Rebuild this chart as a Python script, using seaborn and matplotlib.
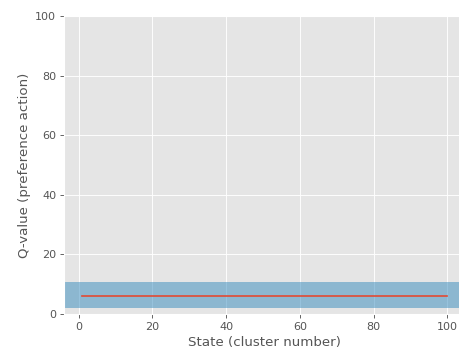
import matplotlib
matplotlib.use("Agg")
import matplotlib.pyplot as plt
import seaborn as sns
import numpy as np
import pandas as pd

states = list(range(1, 101))
q_values = [6.0] * 100
band_low = 2.0
band_high = 10.7

plt.style.use("ggplot")
DPI = 80
fig = plt.figure(figsize=(459 / DPI, 352 / DPI), dpi=DPI)
ax = fig.add_axes([0.1395, 0.108, 0.875, 0.8465])

ax.axhspan(band_low, band_high, color="#348ABD", alpha=0.5, lw=0)
df = pd.DataFrame({"state": states, "q": q_values})
sns.lineplot(data=df, x="state", y="q", ax=ax, color="#E24A33", lw=1.5)

ax.set_ylim(0, 100)
ax.set_xlim(-3.95, 104.95)
ax.set_xlabel("State (cluster number)")
ax.set_ylabel("Q-value (preference action)")
fig.savefig("out.png", dpi=DPI)
